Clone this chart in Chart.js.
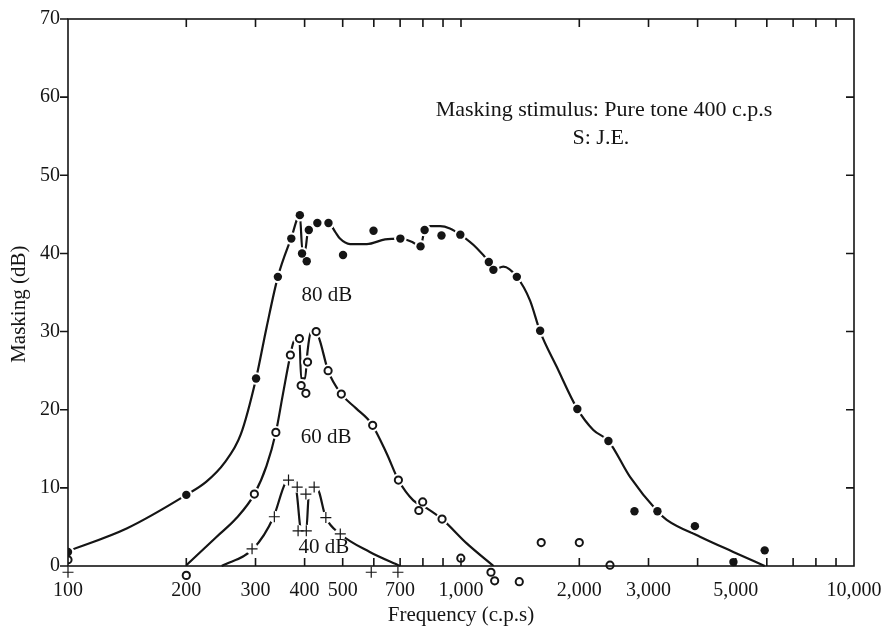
<!DOCTYPE html>
<html>
<head>
<meta charset="utf-8">
<script src="https://cdn.jsdelivr.net/npm/chart.js@4.4.1/dist/chart.umd.min.js"></script>
<style>
  html, body { margin: 0; padding: 0; background: #fff; }
</style>
</head>
<body>
<canvas id="myChart" width="884" height="628"></canvas>
<script>
// measured points, masker 80 dB (filled dots)
const freq80 = [100, 200, 301, 342, 370, 389, 394, 405, 410, 431, 460, 501, 599, 701, 789, 808, 892, 996, 1177, 1209, 1387, 1590, 1977, 2372, 2763, 3161, 3937, 4934, 5926];
const mask80 = [1.8, 9.1, 24.0, 37.0, 41.9, 44.9, 40.0, 39.0, 43.0, 43.9, 43.9, 39.8, 42.9, 41.9, 40.9, 43.0, 42.3, 42.4, 38.9, 37.9, 37.0, 30.1, 20.1, 16.0, 7.0, 7.0, 5.1, 0.5, 2.0];

// masker 60 dB (open circles)
const freq60 = [100, 200, 298, 338, 368, 388, 392, 403, 407, 428, 459, 496, 596, 693, 781, 799, 895, 999, 1192, 1218, 1407, 1600, 2000, 2394];
const mask60 = [0.8, -1.2, 9.2, 17.1, 27.0, 29.1, 23.1, 22.1, 26.1, 30.0, 25.0, 22.0, 18.0, 11.0, 7.1, 8.2, 6.0, 1.0, -0.8, -1.9, -2.0, 3.0, 3.0, 0.1];

// masker 40 dB (crosses)
const freq40 = [100, 294, 335, 364, 383, 385, 404, 403, 423, 453, 493, 591, 691];
const mask40 = [-0.8, 2.2, 6.3, 11.0, 10.1, 4.5, 4.5, 9.2, 10.1, 6.2, 4.1, -0.8, -0.8];

// hand-drawn fitted curves
const curveFreq80 = [100, 141, 200, 225, 250, 275, 301, 320, 342, 370, 389, 395, 401, 407, 413, 431, 460, 478, 492, 522, 576, 641, 701, 749, 789, 808, 834, 885, 937, 996, 1096, 1177, 1209, 1282, 1387, 1498, 1590, 1752, 1977, 2171, 2372, 2692, 3161, 3337, 4055, 4930, 5926];
const curveMask80 = [1.9, 4.8, 9.1, 10.8, 13.2, 16.8, 24.0, 30.5, 37.0, 42.0, 44.9, 40.3, 40.3, 42.6, 43.3, 43.9, 43.9, 42.8, 41.9, 41.2, 41.2, 41.8, 41.9, 41.5, 40.9, 43.0, 43.5, 43.5, 43.2, 42.4, 40.7, 38.9, 37.9, 38.3, 37.0, 34.0, 30.0, 25.5, 20.1, 17.4, 16.0, 11.4, 7.0, 5.9, 3.75, 1.8, 0];

const curveFreq60 = [200, 239, 268, 298, 320, 338, 352, 368, 376, 388, 392, 401, 407, 414, 427, 437, 459, 496, 540, 592, 647, 693, 756, 818, 895, 1034, 1210];
const curveMask60 = [0.1, 3.75, 6.1, 9.2, 12.8, 17.1, 21.9, 27.0, 28.8, 29.1, 24.0, 24.0, 27.5, 29.8, 30.1, 28.9, 25.0, 22.0, 20.2, 18.2, 14.4, 11.0, 8.4, 7.4, 6.0, 2.9, 0];

const curveFreq40 = [246, 296, 333, 357, 365, 381, 392, 404, 410, 430, 453, 493, 586, 700];
const curveMask40 = [0, 2.2, 6.2, 10.6, 11.0, 9.7, 4.6, 4.6, 9.1, 9.9, 6.2, 4.1, 1.8, 0];

// axis ticks
const xTickValues = [100, 200, 300, 400, 500, 600, 700, 800, 900, 1000, 2000, 3000, 4000, 5000, 6000, 7000, 8000, 9000, 10000];
const xTickLabels = [100, 200, 300, 400, 500, 700, 1000, 2000, 3000, 5000, 10000];
const yTickValues = [0, 10, 20, 30, 40, 50, 60, 70];

const ink = '#151515';
const serif = "'Liberation Serif', 'DejaVu Serif', serif";
// room below 0 dB so that points under the axis still get drawn
const yFloor = -3;

function pts(xs, ys) {
  return xs.map((v, i) => ({x: v, y: ys[i]}));
}

function curve(xs, ys) {
  return {
    data: pts(xs, ys),
    showLine: true,
    borderColor: ink,
    borderWidth: 2.2,
    pointRadius: 0,
    cubicInterpolationMode: 'monotone',
    order: 3
  };
}

function halo(xs, ys, r) {
  return {
    data: pts(xs, ys),
    pointRadius: r,
    pointBackgroundColor: '#fff',
    pointBorderWidth: 0,
    order: 2
  };
}

// axis frame at 0..70 dB, inner ticks, x labels and text notes
const frame = {
  id: 'frame',
  afterDatasetsDraw(chart) {
    const {ctx, chartArea: a} = chart;
    const x = chart.scales.x, y = chart.scales.y;
    const bottom = y.getPixelForValue(0);
    const top = y.getPixelForValue(70);
    ctx.save();
    ctx.strokeStyle = ink;
    ctx.lineWidth = 1.6;
    ctx.strokeRect(a.left, top, a.right - a.left, bottom - top);
    ctx.beginPath();
    xTickValues.forEach(v => {
      const px = x.getPixelForValue(v);
      if (px <= a.left + 1 || px >= a.right - 1) return;
      ctx.moveTo(px, bottom); ctx.lineTo(px, bottom - 8);
      ctx.moveTo(px, top); ctx.lineTo(px, top + 8);
    });
    yTickValues.forEach(v => {
      const py = y.getPixelForValue(v);
      ctx.moveTo(a.left - 8, py); ctx.lineTo(a.left, py);
      if (v > 0 && v < 70) { ctx.moveTo(a.right, py); ctx.lineTo(a.right - 8, py); }
    });
    ctx.stroke();

    ctx.fillStyle = ink;
    ctx.textAlign = 'center';
    ctx.textBaseline = 'middle';
    ctx.font = '20px ' + serif;
    xTickLabels.forEach(v => {
      ctx.fillText(v.toLocaleString('en-US'), x.getPixelForValue(v), bottom + 25);
    });

    const notes = [
      {text: 'Masking stimulus: Pure tone 400 c.p.s', f: 2312, m: 58.3, size: 22},
      {text: 'S: J.E.', f: 2270, m: 54.7, size: 22},
      {text: '80 dB', f: 456, m: 34.6, size: 21},
      {text: '60 dB', f: 454, m: 16.4, size: 21},
      {text: '40 dB', f: 448, m: 2.4, size: 21}
    ];
    notes.forEach(n => {
      ctx.font = n.size + 'px ' + serif;
      ctx.fillText(n.text, x.getPixelForValue(n.f), y.getPixelForValue(n.m));
    });
    ctx.restore();
  }
};

const ctx = document.getElementById('myChart').getContext('2d');
const chart = new Chart(ctx, {
  type: 'scatter',
  data: {
    datasets: [
      curve(curveFreq80, curveMask80),
      curve(curveFreq60, curveMask60),
      curve(curveFreq40, curveMask40),
      halo(freq80, mask80, 6.3),
      halo(freq60, mask60, 6.5),
      halo(freq40, mask40, 6),
      {
        data: pts(freq80, mask80),
        pointRadius: 4.2,
        pointBackgroundColor: ink,
        pointBorderWidth: 0,
        clip: {left: 0, top: false, right: false, bottom: false},
        order: 1
      },
      {
        data: pts(freq60, mask60),
        pointRadius: 3.6,
        pointBackgroundColor: '#fff',
        pointBorderColor: ink,
        pointBorderWidth: 2,
        clip: {left: 0, top: false, right: false, bottom: false},
        order: 1
      },
      {
        data: pts(freq40, mask40),
        pointStyle: 'cross',
        pointRadius: 5.5,
        pointBorderColor: ink,
        pointBorderWidth: 1.2,
        clip: false,
        order: 1
      }
    ]
  },
  options: {
    responsive: false,
    animation: false,
    events: [],
    layout: {padding: {top: 19, right: 30, left: 0, bottom: 0}},
    plugins: {legend: {display: false}, tooltip: {enabled: false}},
    scales: {
      x: {
        type: 'logarithmic',
        min: 100,
        max: 10000,
        grid: {display: false, drawTicks: false},
        border: {display: false},
        afterBuildTicks: s => { s.ticks = xTickValues.map(v => ({value: v})); },
        afterFit: s => { s.height = 628 - 566 - (-yFloor) * 547 / 70; s.paddingLeft = 0; s.paddingRight = 0; },
        ticks: {display: false},
        title: {
          display: true,
          text: 'Frequency (c.p.s)',
          color: ink,
          font: {family: serif, size: 21},
          padding: {top: 0, bottom: 0}
        }
      },
      y: {
        min: yFloor,
        max: 70,
        grid: {display: false, drawTicks: false},
        border: {display: false},
        afterBuildTicks: s => { s.ticks = yTickValues.map(v => ({value: v})); },
        afterFit: s => { s.width = 68; s.paddingTop = 0; s.paddingBottom = 0; },
        ticks: {
          padding: 8,
          color: ink,
          font: {family: serif, size: 20}
        },
        title: {
          display: true,
          text: 'Masking (dB)',
          color: ink,
          font: {family: serif, size: 21},
          padding: {top: 7, bottom: 0}
        }
      }
    }
  },
  plugins: [frame]
});
</script>
</body>
</html>
